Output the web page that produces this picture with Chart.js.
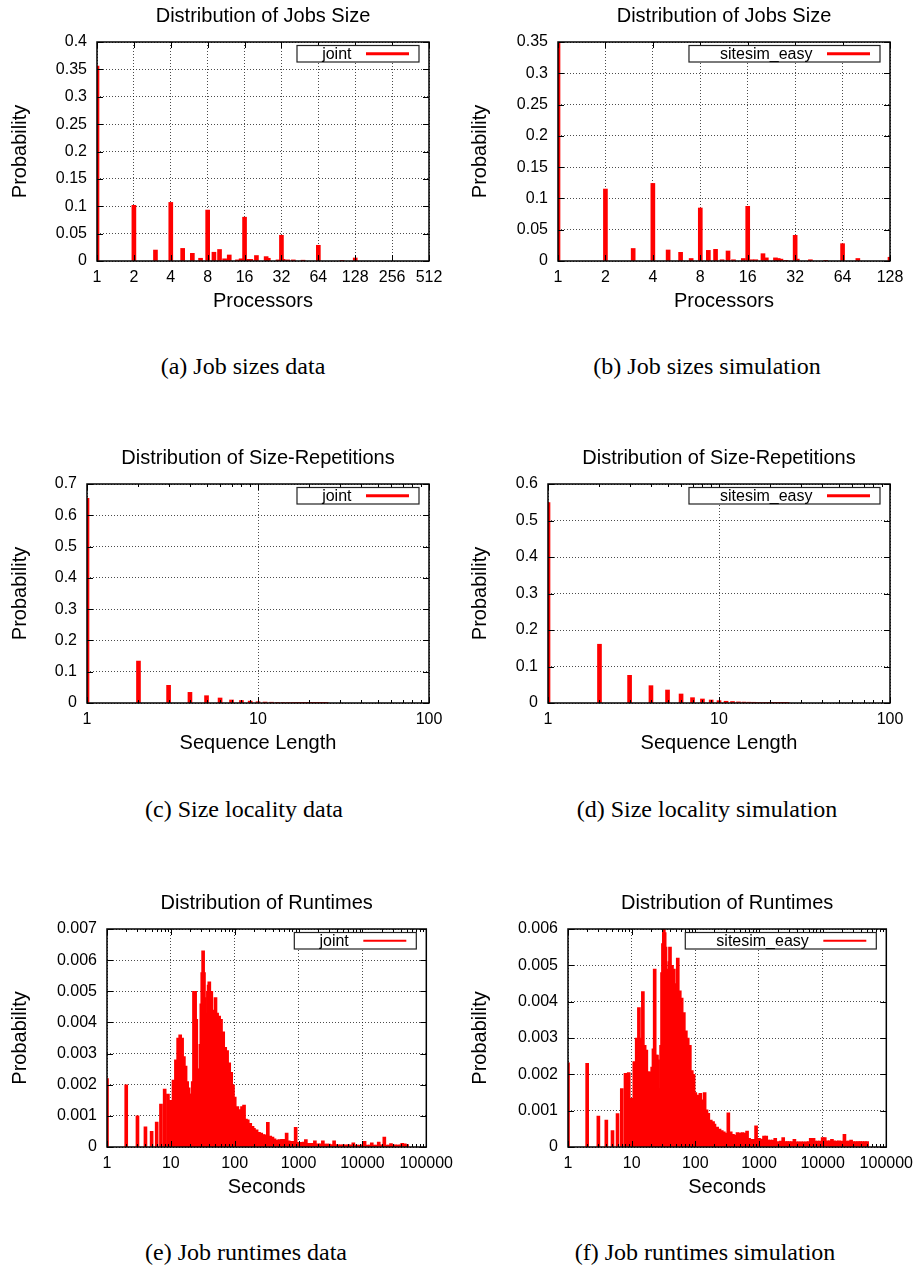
<!DOCTYPE html>
<html>
<head>
<meta charset="utf-8">
<script src="https://cdn.jsdelivr.net/npm/chart.js@4.4.0/dist/chart.umd.min.js"></script>
<style>
  body { margin: 0; background: #fff; width: 920px; height: 1267px; position: relative; overflow: hidden; }
  canvas { position: absolute; }
  .cap { position: absolute; font-family: 'Liberation Serif', 'Times New Roman', serif; font-size: 24px; line-height: 24px;
         transform: translateX(-50%); white-space: nowrap; color: #000; }
</style>
</head>
<body>
<canvas id="sizeData" width="460" height="313" style="left:0;top:0"></canvas>
<canvas id="sizeSim" width="460" height="313" style="left:460px;top:0"></canvas>
<canvas id="seqData" width="460" height="315" style="left:0;top:440px"></canvas>
<canvas id="seqSim" width="460" height="315" style="left:460px;top:440px"></canvas>
<canvas id="runData" width="460" height="319" style="left:0;top:880px"></canvas>
<canvas id="runSim" width="460" height="319" style="left:460px;top:880px"></canvas>

<div class="cap" style="left:243px;top:354px">(a) Job sizes data</div>
<div class="cap" style="left:707px;top:354px">(b) Job sizes simulation</div>
<div class="cap" style="left:244px;top:797px">(c) Size locality data</div>
<div class="cap" style="left:707px;top:797px">(d) Size locality simulation</div>
<div class="cap" style="left:246px;top:1240px">(e) Job runtimes data</div>
<div class="cap" style="left:705px;top:1240px">(f) Job runtimes simulation</div>

<script>
// ---- job sizes ----
const sizeTicksData = [1, 2, 4, 8, 16, 32, 64, 128, 256, 512];
const sizeTicksSim = [1, 2, 4, 8, 16, 32, 64, 128];
const sizeProcsData = [1, 2, 3, 4, 5, 6, 7, 8, 9, 10, 11, 12, 14, 15, 16, 17, 18, 20, 24, 25, 30, 32, 33, 36, 40, 48, 64, 100, 128];
const sizeProbData = [0.356, 0.1017, 0.020, 0.107, 0.023, 0.014, 0.005, 0.093, 0.016, 0.021, 0.004, 0.011, 0.002, 0.004, 0.080,
  0.003, 0.003, 0.010, 0.008, 0.005, 0.002, 0.047, 0.003, 0.002, 0.002, 0.0015, 0.0287, 0.001, 0.0055];
const sizeProcsSim = [1, 2, 3, 4, 5, 6, 7, 8, 9, 10, 11, 12, 13, 15, 16, 17, 18, 20, 21, 24, 25, 26, 28, 32, 33, 40, 50, 64, 80, 128];
const sizeProbSim = [0.352, 0.115, 0.020, 0.124, 0.0176, 0.0139, 0.004, 0.0847, 0.017, 0.0187, 0.002, 0.016, 0.002, 0.004, 0.0874,
  0.002, 0.002, 0.0117, 0.005, 0.005, 0.004, 0.003, 0.001, 0.041, 0.003, 0.002, 0.001, 0.0277, 0.004, 0.006];

// ---- size repetitions ----
const seqTicks = [1, 10, 100];
const seqLength = [1, 2, 3, 4, 5, 6, 7, 8, 9, 10, 11, 12, 13, 14, 15, 16, 17, 18, 19, 20, 21, 22, 23, 24, 25];
const seqProbData = [0.654, 0.134, 0.0565, 0.034, 0.0234, 0.016, 0.0096, 0.008, 0.006, 0.004, 0.003, 0.0025, 0.002, 0.0018,
  0.0015, 0.0012, 0.001, 0.0008, 0.0006, 0.0005, 0.0004, 0.0003, 0.0003, 0.0002, 0.0002];
const seqProbSim = [0.549, 0.161, 0.0758, 0.0475, 0.0356, 0.0247, 0.0146, 0.011, 0.0082, 0.0064, 0.0048, 0.004, 0.003, 0.0025,
  0.0022, 0.002, 0.0016, 0.0014, 0.0012, 0.001, 0.0009, 0.0008, 0.0007, 0.0006, 0.0005];

// ---- runtimes ----
const runTicks = [1, 10, 100, 1000, 10000, 100000];
const runSeconds = [1, 2, 3, 4, 5, 6, 7, 8, 9, 10, 11, 12, 13, 14, 15, 16, 17, 18, 19, 20,
  21, 22, 23, 24, 25, 26, 27, 28, 29, 30, 31, 32, 33, 34, 35, 36, 37, 38, 39, 40,
  43, 46, 50, 53, 57, 61, 66, 71, 76, 82, 88, 94, 100,
  110, 120, 130, 140, 150, 160, 175, 190, 200, 220, 240, 260, 280, 300, 330, 360, 390, 420, 460, 500,
  550, 600, 650, 700, 760, 830, 900, 1000, 1100, 1200, 1300, 1400, 1500, 1650, 1800, 2000, 2200, 2400,
  2600, 2800, 3000, 3300, 3600, 3900, 4200, 4600, 5000, 5500, 6000, 6500, 7200, 7600, 8300, 9000,
  10000, 10800, 12000, 13000, 14000, 15000, 16500, 18000, 20000, 22000, 24000, 26000, 28000, 30000,
  33000, 36000, 39000, 42000, 46000, 50000];
const runProbData = [0.0022, 0.0020, 0.0010, 0.00065, 0.0005, 0.0008, 0.00138, 0.00186, 0.0017, 0.0015,
  0.00215, 0.0028, 0.0035, 0.0036, 0.0035, 0.0029, 0.0026, 0.0021, 0.0019, 0.0017,
  0.0017, 0.0021, 0.0050, 0.0050, 0.0041, 0.0025, 0.0025, 0.0025, 0.0033, 0.0046,
  0.0056, 0.0063, 0.0056, 0.0048, 0.0043, 0.0042, 0.0042, 0.0050, 0.0052, 0.0053,
  0.0050, 0.0044, 0.0048, 0.0043, 0.0042, 0.0041, 0.0037, 0.0032, 0.0031, 0.0027, 0.0024, 0.0020, 0.0016,
  0.0013, 0.0012, 0.0013, 0.00135, 0.0009, 0.00087, 0.00076, 0.00066, 0.0006, 0.00055, 0.00047, 0.00045, 0.0004,
  0.00039, 0.00079, 0.00035, 0.00032, 0.00026, 0.00022, 0.00024, 0.00025, 0.00025, 0.00045, 0.0002, 0.00018,
  0.00018, 0.00063, 0.00015, 0.00015, 0.00016, 0.00024, 0.00012, 0.00012, 0.00012, 0.0002, 0.0001, 0.0001,
  0.0002, 0.00009, 0.00009, 0.00009, 0.00008, 0.0002, 0.00008, 0.00007, 0.00007, 0.00007, 0.00007, 0.00007,
  0.00007, 0.00013, 0.00006, 0.00006, 0.00006, 0.00007, 0.00018, 0.00006, 0.00006, 0.00013, 0.00006, 0.00006,
  0.00016, 0.00007, 0.00032, 0.00006, 0.00006, 0.00011, 0.00006, 0.00007, 0.00006, 0.00007, 0.00012, 0.0001, 0.00008];
const runProbSim = [0.00232, 0.0023, 0.00085, 0.00074, 0.00045, 0.00092, 0.00161, 0.00203, 0.00205, 0.00134,
  0.00235, 0.0030, 0.00384, 0.0030, 0.00428, 0.0028, 0.00267, 0.00207, 0.00207, 0.00166,
  0.0022, 0.0027, 0.0049, 0.00253, 0.00253, 0.0024, 0.0016, 0.0016, 0.0028, 0.0048,
  0.0056, 0.0060, 0.0059, 0.0055, 0.0044, 0.0043, 0.0045, 0.0049, 0.0051, 0.0055,
  0.0050, 0.0049, 0.0045, 0.0052, 0.0043, 0.0041, 0.0037, 0.0032, 0.0030, 0.0028, 0.0021, 0.0020, 0.0015,
  0.00143, 0.00148, 0.0013, 0.0015, 0.00102, 0.00093, 0.00074, 0.0007, 0.00063, 0.00055, 0.00049, 0.00045, 0.00042,
  0.00038, 0.00094, 0.00042, 0.00035, 0.00033, 0.0004, 0.00038, 0.0004, 0.00038, 0.00044, 0.00024, 0.00021,
  0.00021, 0.00058, 0.00024, 0.00022, 0.0003, 0.0003, 0.00019, 0.00019, 0.00019, 0.00024, 0.00015, 0.00016,
  0.00026, 0.00015, 0.00015, 0.00015, 0.00015, 0.00021, 0.00014, 0.00014, 0.00014, 0.00014, 0.00014, 0.00015,
  0.00024, 0.00024, 0.00016, 0.00016, 0.00016, 0.00026, 0.00026, 0.00017, 0.00017, 0.00021, 0.00017, 0.00016,
  0.00017, 0.00016, 0.00035, 0.00016, 0.00016, 0.00019, 0.00015, 0.00015, 0.00015, 0.00015, 0.00015, 0.00015, 0.00015];

const minorDecades = (lo, hi) => {
  const out = [];
  for (let d = lo; d < hi; d *= 10) for (let k = 2; k <= 9; k++) out.push(d * k);
  return out;
};

const SANS = '"Liberation Sans", Arial, Helvetica, sans-serif';
const GRID = 'rgba(0,0,0,0.7)';

// gnuplot-like frame: inward tics, border, title above the plot, opaque key box
const gnuFrame = {
  id: 'gnuFrame',
  afterDraw(chart, args, opts) {
    const { ctx, chartArea: a, scales: { x, y } } = chart;
    ctx.save();
    ctx.strokeStyle = '#000';
    ctx.lineWidth = 1;
    ctx.beginPath();
    x.ticks.forEach(t => {
      const px = Math.round(x.getPixelForValue(t.value)) + 0.5;
      ctx.moveTo(px, a.bottom); ctx.lineTo(px, a.bottom - 6);
      ctx.moveTo(px, a.top); ctx.lineTo(px, a.top + 6);
    });
    (opts.minor || []).forEach(v => {
      const px = Math.round(x.getPixelForValue(v)) + 0.5;
      ctx.moveTo(px, a.bottom); ctx.lineTo(px, a.bottom - 3);
      ctx.moveTo(px, a.top); ctx.lineTo(px, a.top + 3);
    });
    y.ticks.forEach(t => {
      const py = Math.round(y.getPixelForValue(t.value)) + 0.5;
      ctx.moveTo(a.left, py); ctx.lineTo(a.left + 6, py);
      ctx.moveTo(a.right, py); ctx.lineTo(a.right - 6, py);
    });
    ctx.stroke();

    ctx.lineWidth = 1.5;
    ctx.strokeRect(a.left, a.top, a.right - a.left, a.bottom - a.top);

    ctx.fillStyle = '#000';
    ctx.font = '20px ' + SANS;
    ctx.textAlign = 'center';
    ctx.textBaseline = 'middle';
    ctx.fillText(opts.title, (a.left + a.right) / 2, a.top - 26);

    // key
    const label = chart.data.datasets[0].label;
    const right = a.right - 10, top = a.top + 3.5, h = 16.5;
    const left = right - (72.7 + 9.86 * label.length);
    ctx.fillStyle = '#fff';
    ctx.fillRect(left, top, right - left, h);
    ctx.strokeStyle = '#222';
    ctx.lineWidth = 1.2;
    ctx.strokeRect(left, top, right - left, h);
    ctx.fillStyle = '#000';
    ctx.font = '16px ' + SANS;
    ctx.textAlign = 'right';
    ctx.fillText(label, right - 67.5, top + h / 2 + 0.5);
    ctx.strokeStyle = '#ff0000';
    ctx.lineWidth = opts.keyWidth;
    ctx.beginPath();
    ctx.moveTo(right - 53, top + h / 2);
    ctx.lineTo(right - 10, top + h / 2);
    ctx.stroke();
    ctx.restore();
  }
};

function plot(id, p) {
  const canvas = document.getElementById(id);
  const W = canvas.width, H = canvas.height;
  const ca = p.area;
  return new Chart(canvas.getContext('2d'), {
    type: 'bar',
    data: {
      datasets: [{
        label: p.label,
        data: p.xs.map((v, i) => ({ x: v, y: p.ys[i] })),
        backgroundColor: '#ff0000',
        borderWidth: 0,
        barThickness: p.bar
      }]
    },
    options: {
      responsive: false,
      animation: false,
      events: [],
      layout: { padding: { top: ca.top, right: W - ca.right, left: 0, bottom: 0 } },
      plugins: {
        legend: { display: false },
        tooltip: { enabled: false },
        gnuFrame: { title: p.title, minor: p.minor, keyWidth: p.keyWidth }
      },
      scales: {
        x: {
          type: 'logarithmic',
          min: p.xTicks[0],
          max: p.xTicks[p.xTicks.length - 1],
          offset: false,
          afterBuildTicks: s => { s.ticks = p.xTicks.map(v => ({ value: v })); },
          afterFit: s => { s.height = H - ca.bottom; },
          ticks: {
            autoSkip: false, maxRotation: 0, minRotation: 0, padding: 7,
            color: '#000', font: { family: SANS, size: 16 },
            callback: v => String(v)
          },
          grid: { offset: false, drawTicks: false, color: GRID, lineWidth: 1 },
          border: { display: false, dash: [1, 2] },
          title: { display: true, text: p.xTitle, color: '#000', font: { family: SANS, size: 20 }, padding: { top: 0, bottom: 0 } }
        },
        y: {
          min: 0,
          max: p.yMax,
          afterFit: s => { s.width = ca.left; },
          ticks: {
            stepSize: p.yStep, padding: 10, color: '#000', font: { family: SANS, size: 16 },
            callback: v => String(+v.toFixed(4))
          },
          grid: { drawTicks: false, color: GRID, lineWidth: 1 },
          border: { display: false, dash: [1, 2] },
          title: { display: true, text: 'Probability', color: '#000', font: { family: SANS, size: 20 }, padding: { top: 8, bottom: 0 } }
        }
      }
    },
    plugins: [gnuFrame]
  });
}

plot('sizeData', {
  area: { left: 97, top: 42, right: 429, bottom: 261 },
  title: 'Distribution of Jobs Size', label: 'joint', xTitle: 'Processors',
  xTicks: sizeTicksData, yMax: 0.4, yStep: 0.05, bar: 4, keyWidth: 3,
  xs: sizeProcsData, ys: sizeProbData
});
plot('sizeSim', {
  area: { left: 98, top: 42, right: 430, bottom: 261 },
  title: 'Distribution of Jobs Size', label: 'sitesim_easy', xTitle: 'Processors',
  xTicks: sizeTicksSim, yMax: 0.35, yStep: 0.05, bar: 4, keyWidth: 3,
  xs: sizeProcsSim, ys: sizeProbSim
});
plot('seqData', {
  area: { left: 87, top: 44, right: 429, bottom: 263 },
  title: 'Distribution of Size-Repetitions', label: 'joint', xTitle: 'Sequence Length',
  xTicks: seqTicks, minor: minorDecades(1, 100), yMax: 0.7, yStep: 0.1, bar: 4, keyWidth: 3,
  xs: seqLength, ys: seqProbData
});
plot('seqSim', {
  area: { left: 88, top: 44, right: 430, bottom: 263 },
  title: 'Distribution of Size-Repetitions', label: 'sitesim_easy', xTitle: 'Sequence Length',
  xTicks: seqTicks, minor: minorDecades(1, 100), yMax: 0.6, yStep: 0.1, bar: 4, keyWidth: 3,
  xs: seqLength, ys: seqProbSim
});
plot('runData', {
  area: { left: 107, top: 49, right: 429, bottom: 267 },
  title: 'Distribution of Runtimes', label: 'joint', xTitle: 'Seconds',
  xTicks: runTicks, minor: minorDecades(1, 100000), yMax: 0.007, yStep: 0.001, bar: 3, keyWidth: 2,
  xs: runSeconds, ys: runProbData
});
plot('runSim', {
  area: { left: 108, top: 49, right: 430, bottom: 267 },
  title: 'Distribution of Runtimes', label: 'sitesim_easy', xTitle: 'Seconds',
  xTicks: runTicks, minor: minorDecades(1, 100000), yMax: 0.006, yStep: 0.001, bar: 3, keyWidth: 2,
  xs: runSeconds, ys: runProbSim
});
</script>
</body>
</html>
